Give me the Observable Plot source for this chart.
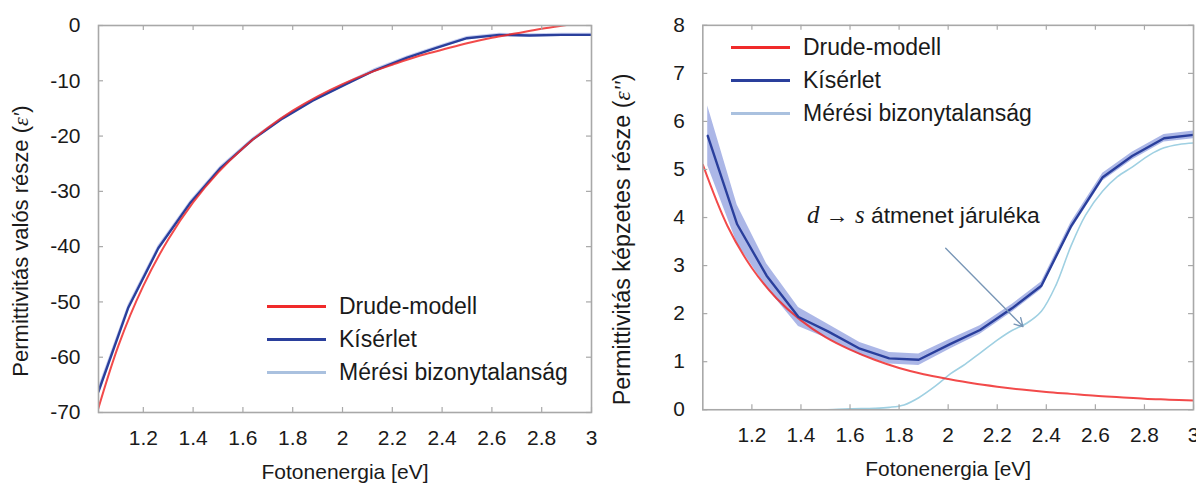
<!DOCTYPE html>
<html>
<head>
<meta charset="utf-8">
<script src="https://cdn.jsdelivr.net/npm/d3@7"></script>
<script src="https://cdn.jsdelivr.net/npm/@observablehq/plot@0.6"></script>
<style>
  html, body { margin: 0; padding: 0; background: #fff; overflow: hidden; }
  #wrap { position: relative; width: 1196px; height: 486px; overflow: hidden; }
  .panel { position: absolute; top: 0; }
  .legend { position: absolute; font: 23px "Liberation Sans", Arial, sans-serif; color: #1a1a1a; }
  .legend .row { display: flex; align-items: center; height: 33px; white-space: nowrap; }
  .legend .sw { display: inline-block; width: 59px; height: 3px; margin-right: 13px; }
</style>
</head>
<body>
<div id="wrap"></div>
<script>
// Measured photon energies (eV) and permittivity of the film
const energy     = [1.02, 1.14, 1.26, 1.39, 1.51, 1.64, 1.76, 1.88, 2.01, 2.13, 2.26, 2.38, 2.50, 2.63, 2.75, 2.88, 3.00];
const epsRealExp = [-66.2, -51.0, -40.3, -32.0, -25.8, -20.6, -16.8, -13.6, -10.7, -8.1, -5.8, -4.0, -2.3, -1.7, -1.8, -1.7, -1.7];
const epsRealErr = [0.8, 0.6, 0.5, 0.4, 0.4, 0.3, 0.3, 0.3, 0.3, 0.3, 0.3, 0.3, 0.3, 0.3, 0.3, 0.3, 0.3];
const epsImagExp = [5.70, 3.86, 2.79, 1.93, 1.63, 1.27, 1.07, 1.04, 1.37, 1.66, 2.11, 2.58, 3.81, 4.84, 5.28, 5.65, 5.72];
const epsImagErr = [0.62, 0.40, 0.25, 0.20, 0.15, 0.13, 0.12, 0.12, 0.10, 0.09, 0.08, 0.08, 0.08, 0.08, 0.08, 0.08, 0.08];

// Drude model curve
const drudeEnergy = [1.0, 1.1, 1.2, 1.3, 1.4, 1.5, 1.6, 1.7, 1.8, 1.9, 2.0, 2.1, 2.2, 2.3, 2.4, 2.5, 2.6, 2.7, 2.8, 2.9, 3.0];
const drudeReal   = [-72.2, -57.9, -47.1, -38.7, -32.0, -26.6, -22.2, -18.5, -15.4, -12.8, -10.6, -8.7, -7.1, -5.6, -4.4, -3.2, -2.2, -1.4, -0.6, 0.1, 0.8];
const drudeImag   = [5.10, 3.83, 2.95, 2.32, 1.86, 1.51, 1.25, 1.04, 0.87, 0.74, 0.64, 0.55, 0.48, 0.42, 0.37, 0.33, 0.29, 0.26, 0.23, 0.21, 0.19];

// Interband (d → s) contribution: measurement minus Drude
const interEnergy = [1.45, 1.50, 1.60, 1.70, 1.76, 1.82, 1.88, 1.95, 2.01, 2.07, 2.13, 2.20, 2.26, 2.32, 2.38, 2.44, 2.50, 2.56, 2.63, 2.69, 2.75, 2.82, 2.88, 2.94, 3.00];
const interImag   = [0.00, 0.00, 0.02, 0.03, 0.05, 0.10, 0.25, 0.50, 0.75, 0.95, 1.18, 1.45, 1.65, 1.80, 2.05, 2.60, 3.40, 4.05, 4.55, 4.85, 5.05, 5.30, 5.45, 5.52, 5.55];

// Axis ticks
const xTicks = [1.2, 1.4, 1.6, 1.8, 2.0, 2.2, 2.4, 2.6, 2.8, 3.0];
const yTicksReal = [0, -10, -20, -30, -40, -50, -60, -70];
const yTicksImag = [0, 1, 2, 3, 4, 5, 6, 7, 8];

// Texts
const xTitle = "Fotonenergia [eV]";
const yTitleReal = [{t: "Permittivitás valós része ("}, {t: "ε'", math: true}, {t: ")"}];
const yTitleImag = [{t: "Permittivitás képzetes része ("}, {t: "ε''", math: true}, {t: ")"}];
const noteText = [{t: "d", math: true}, {t: " → "}, {t: "s", math: true}, {t: " átmenet járuléka"}];
const noteAnchor = [{x: 1.425, y: 4.04}];
const noteArrow = [{x1: 1.99, y1: 3.36, x2: 2.305, y2: 1.73}];

const legendLabels = ["Drude-modell", "Kísérlet", "Mérési bizonytalanság"];

const C = {
  red: "#f02a2a",
  blue: "#2a3f9c",
  band: "#5a6fd0",
  inter: "#9fd0e2",
  frame: "#a8a8a8",
  arrow: "#7896b6",
  legendLight: "#aac1df"
};

const FONT = '"Liberation Sans", Arial, sans-serif';
const MATH = '"Liberation Serif", "DejaVu Serif", serif';

const rows = (xs, ...cols) => xs.map((x, i) => ({x, ...Object.fromEntries(cols.map(([k, v]) => [k, v[i]]))}));
const expRows   = rows(energy, ["re", epsRealExp], ["reErr", epsRealErr], ["im", epsImagExp], ["imErr", epsImagErr]);
const drudeRows = rows(drudeEnergy, ["re", drudeReal], ["im", drudeImag]);
const interRows = rows(interEnergy, ["im", interImag]);

const join = segs => segs.map(s => s.t).join("");

// Rebuild a text node as tspans so that the symbols are set in italic serif
function styleSegments(svg, segs, mathSize) {
  const full = join(segs);
  d3.select(svg).selectAll("text").filter(function () { return this.textContent === full; })
    .each(function () {
      const t = d3.select(this);
      t.text(null);
      for (const s of segs) {
        const ts = t.append("tspan").text(s.t);
        if (s.math) {
          ts.attr("font-family", MATH).attr("font-style", "italic");
          if (mathSize) ts.attr("font-size", mathSize);
        }
      }
    });
}

function panel({left, width, marginLeft, marginRight, xDomain, yDomain, yTicks, marks, yTitle, yTitleDx, yTitleSize}) {
  const marginTop = 25, marginBottom = 74, height = 486;
  const innerW = width - marginLeft - marginRight;
  const innerH = height - marginTop - marginBottom;
  const fmt = d => String(d);
  const svg = Plot.plot({
    width, height, marginLeft, marginRight, marginTop, marginBottom,
    style: {fontFamily: FONT, fontSize: "21px", color: "#1a1a1a", background: "transparent", overflow: "visible"},
    x: {domain: xDomain},
    y: {domain: yDomain},
    marks: [
      ...marks,
      Plot.frame({stroke: C.frame, strokeWidth: 1.6}),
      // inward tick marks on all four sides
      Plot.ruleX(xTicks, {stroke: C.frame, strokeWidth: 1.2, insetTop: innerH - 5}),
      Plot.ruleX(xTicks, {stroke: C.frame, strokeWidth: 1.2, insetBottom: innerH - 5}),
      Plot.ruleY(yTicks, {stroke: C.frame, strokeWidth: 1.2, insetRight: innerW - 5}),
      Plot.ruleY(yTicks, {stroke: C.frame, strokeWidth: 1.2, insetLeft: innerW - 5}),
      Plot.axisX({ticks: xTicks, tickSize: 0, tickPadding: 18, tickFormat: fmt, label: null, fontSize: 21}),
      Plot.axisY({ticks: yTicks, tickSize: 0, tickPadding: 18, tickFormat: fmt, label: null, fontSize: 21}),
      Plot.text([xTitle], {text: d => d, frameAnchor: "bottom", dy: 60, fontSize: 21, textAnchor: "middle", lineAnchor: "middle"}),
      Plot.text([join(yTitle)], {text: d => d, frameAnchor: "left", dx: yTitleDx, dy: 22, rotate: -90, fontSize: yTitleSize, textAnchor: "middle", lineAnchor: "middle"})
    ]
  });
  styleSegments(svg, yTitle);
  const holder = document.createElement("div");
  holder.className = "panel";
  holder.style.left = left + "px";
  holder.appendChild(svg);
  document.getElementById("wrap").appendChild(holder);
  return svg;
}

function legend(left, top, colors) {
  const div = document.createElement("div");
  div.className = "legend";
  div.style.left = left + "px";
  div.style.top = top + "px";
  legendLabels.forEach((label, i) => {
    const row = document.createElement("div");
    row.className = "row";
    const sw = document.createElement("span");
    sw.className = "sw";
    sw.style.background = colors[i];
    row.appendChild(sw);
    row.appendChild(document.createTextNode(label));
    div.appendChild(row);
  });
  document.getElementById("wrap").appendChild(div);
}

// Real part
panel({
  left: 0, width: 600, marginLeft: 98, marginRight: 9,
  xDomain: [1.02, 3], yDomain: [-70, 0], yTicks: yTicksReal,
  yTitle: yTitleReal, yTitleDx: -78, yTitleSize: 22,
  marks: [
    Plot.areaY(expRows, {x: "x", y1: d => d.re - d.reErr, y2: d => d.re + d.reErr, fill: C.band, fillOpacity: 0.35, clip: true}),
    Plot.line(expRows, {x: "x", y: "re", stroke: C.blue, strokeWidth: 2.4, clip: true}),
    Plot.line(drudeRows, {x: "x", y: "re", stroke: C.red, strokeWidth: 2, strokeOpacity: 0.85, curve: "catmull-rom", clip: true})
  ]
});

// Imaginary part
const imagSvg = panel({
  left: 600, width: 600, marginLeft: 103, marginRight: 3,
  xDomain: [1.0, 3], yDomain: [0, 8], yTicks: yTicksImag,
  yTitle: yTitleImag, yTitleDx: -81, yTitleSize: 23.5,
  marks: [
    Plot.areaY(expRows, {x: "x", y1: d => d.im - d.imErr, y2: d => d.im + d.imErr, fill: C.band, fillOpacity: 0.5, clip: true}),
    Plot.line(interRows, {x: "x", y: "im", stroke: C.inter, strokeWidth: 1.6, curve: "catmull-rom", clip: true}),
    Plot.line(drudeRows, {x: "x", y: "im", stroke: C.red, strokeWidth: 2, strokeOpacity: 0.85, curve: "catmull-rom", clip: true}),
    Plot.line(expRows, {x: "x", y: "im", stroke: C.blue, strokeWidth: 2.4, clip: true}),
    Plot.arrow(noteArrow, {x1: "x1", y1: "y1", x2: "x2", y2: "y2", stroke: C.arrow, strokeWidth: 1.4, headLength: 10}),
    Plot.text(noteAnchor, {x: "x", y: "y", text: () => join(noteText), textAnchor: "start", fontSize: 23})
  ]
});
styleSegments(imagSvg, noteText, 25);

legend(267, 290, [C.red, C.blue, C.legendLight]);
legend(731, 31, [C.red, C.blue, C.legendLight]);
</script>
</body>
</html>
